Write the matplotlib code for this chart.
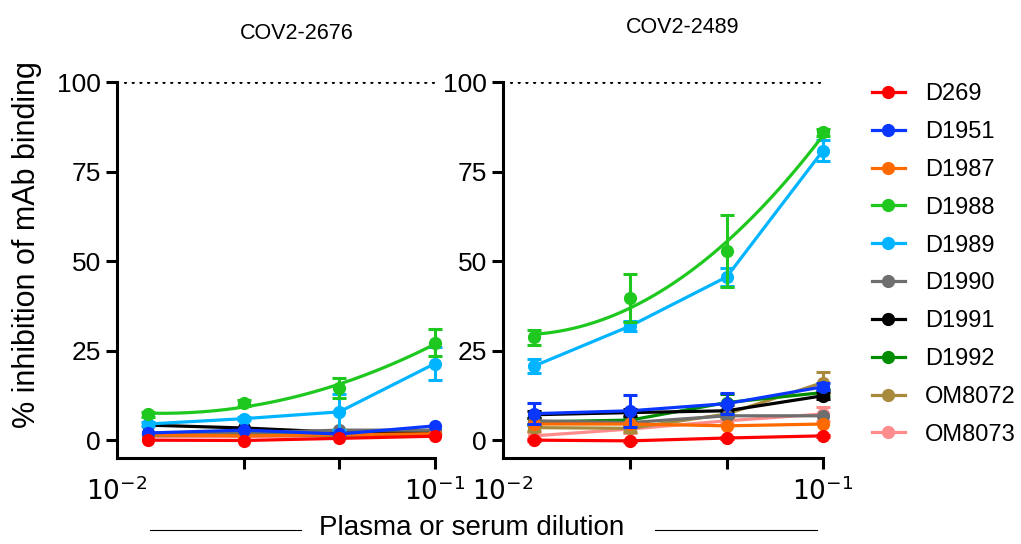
import numpy as np
import matplotlib
matplotlib.use('Agg')
import matplotlib.pyplot as plt
from matplotlib.lines import Line2D

plt.rcParams['font.family'] = ['Liberation Sans', 'DejaVu Sans']

# plasma dilutions (1:80, 1:40, 1:20, 1:10)
dil = [0.0125, 0.025, 0.05, 0.1]

names = ['D269', 'D1951', 'D1987', 'D1988', 'D1989', 'D1990', 'D1991', 'D1992', 'OM8072', 'OM8073']
colors = ['#ff0000', '#0a37ff', '#ff6a00', '#1ec81e', '#00b4ff', '#6e6e6e', '#000000', '#008c00', '#a88a3c', '#ff8c8c']

# COV2-2676
left_vals = {
    'D269':   [0.0, -0.1, 0.5, 1.1],
    'D1951':  [2.0, 2.8, 1.7, 4.0],
    'D1987':  [1.5, 1.2, 1.5, 1.8],
    'D1988':  [7.2, 10.3, 14.6, 27.2],
    'D1989':  [4.5, 6.0, 7.9, 21.4],
    'D1990':  [2.0, 2.0, 2.8, 2.8],
    'D1991':  [4.2, 3.4, 2.2, 2.0],
    'D1992':  [1.5, 1.5, 1.5, 2.0],
    'OM8072': [1.5, 1.5, 1.5, 1.5],
    'OM8073': [1.0, 1.0, 1.2, 1.5],
}
left_err = {
    'D1988': [0.8, 0.8, 2.7, 3.8],
    'D1989': [0.5, 0.5, 5.0, 4.5],
}

# COV2-2489
right_vals = {
    'D269':   [0.0, -0.2, 0.6, 1.2],
    'D1951':  [7.4, 8.2, 10.2, 14.9],
    'D1987':  [4.5, 4.5, 4.0, 4.5],
    'D1988':  [28.7, 39.6, 52.8, 86.0],
    'D1989':  [20.7, 31.9, 45.6, 80.9],
    'D1990':  [5.4, 4.9, 6.8, 6.8],
    'D1991':  [7.1, 7.7, 8.2, 12.4],
    'D1992':  [5.1, 5.6, 10.5, 13.3],
    'OM8072': [3.5, 3.3, 7.3, 16.1],
    'OM8073': [1.2, 3.1, 5.4, 7.3],
}
right_err = {
    'D269':   [0.3, 0.3, 0.3, 0.3],
    'D1951':  [3.0, 4.4, 3.0, 1.0],
    'D1988':  [2.0, 6.7, 10.0, 1.0],
    'D1989':  [2.0, 1.5, 2.5, 3.0],
    'D1991':  [1.0, 1.0, 1.5, 1.0],
    'D1992':  [1.0, 1.0, 2.5, 1.0],
    'OM8072': [1.0, 1.0, 1.0, 3.0],
    'OM8073': [1.0, 1.0, 1.0, 2.0],
}

titles = ['COV2-2676', 'COV2-2489']
fitted = 'D1988'  # drawn as a smooth fit instead of straight segments

fig = plt.figure(figsize=(10.21, 5.44), dpi=100)
ax1 = fig.add_axes([0.1146, 0.158, 0.3115, 0.691])
ax2 = fig.add_axes([0.4927, 0.158, 0.3134, 0.691])

MS = 8.5
LW = 2.3

for ax, vals, errs in [(ax1, left_vals, left_err), (ax2, right_vals, right_err)]:
    ax.set_xscale('log')
    ax.set_xlim(0.01, 0.1)
    ax.set_ylim(-5, 100)
    ax.axhline(100, xmin=0.025, color='black', ls=(0, (0.01, 2.4)), lw=2.3,
               dash_capstyle='round', zorder=1)
    # draw in reverse so D269 sits on top
    for i in range(len(names) - 1, -1, -1):
        nm = names[i]
        c = colors[i]
        y = vals[nm]
        z = 3 + (len(names) - i) * 0.01
        if nm == fitted:
            lx = np.log10(dil)
            p = np.polyfit(lx, y, 2)
            xs = np.linspace(lx[0], lx[-1], 100)
            ax.plot(10 ** xs, np.polyval(p, xs), color=c, lw=LW, zorder=z, clip_on=False)
            ax.plot(dil, y, 'o', color=c, ms=MS, zorder=z, clip_on=False)
        else:
            ax.plot(dil, y, '-o', color=c, lw=LW, ms=MS, zorder=z, clip_on=False)
        if nm in errs:
            ax.errorbar(dil, y, yerr=errs[nm], fmt='none', ecolor=c, elinewidth=2.2,
                        capsize=5, capthick=2.2, zorder=z, clip_on=False)

    ax.spines['top'].set_visible(False)
    ax.spines['right'].set_visible(False)
    ax.spines['left'].set_linewidth(2.2)
    ax.spines['bottom'].set_linewidth(2.2)
    ax.set_yticks([0, 25, 50, 75, 100])
    ax.tick_params(axis='both', which='major', labelsize=19, width=2.2, length=8, direction='out')
    ax.set_xticks([0.01, 0.025, 0.05, 0.1])
    ax.set_xticklabels(['$10^{-2}$', '', '', '$10^{-1}$'])
    ax.xaxis.set_minor_locator(matplotlib.ticker.NullLocator())
    ax.xaxis.get_major_ticks()[0].tick1line.set_visible(False)
    ax.tick_params(axis='x', pad=5)

ax1.text(0.566, 1.13, titles[0], transform=ax1.transAxes, ha='center', va='center', fontsize=15.5)
ax2.text(0.5625, 1.145, titles[1], transform=ax2.transAxes, ha='center', va='center', fontsize=15.5)

ax1.set_ylabel('% inhibition of mAb binding', fontsize=22)
ax1.yaxis.set_label_coords(-0.236, 0.567)

handles = [Line2D([0], [0], color=c, lw=LW, marker='o', ms=MS) for c in colors]
fig.legend(handles, names, loc='upper left', bbox_to_anchor=(0.833, 0.886), frameon=False,
           fontsize=17, handlelength=1.4, labelspacing=0.67, handletextpad=0.85)

fig.text(0.462, 0.03, 'Plasma or serum dilution', fontsize=20, ha='center', va='center')
fig.add_artist(Line2D([0.147, 0.295], [0.025, 0.025], color='black', lw=0.8))
fig.add_artist(Line2D([0.642, 0.8], [0.025, 0.025], color='black', lw=0.8))

fig.savefig('out.png', dpi=100)
